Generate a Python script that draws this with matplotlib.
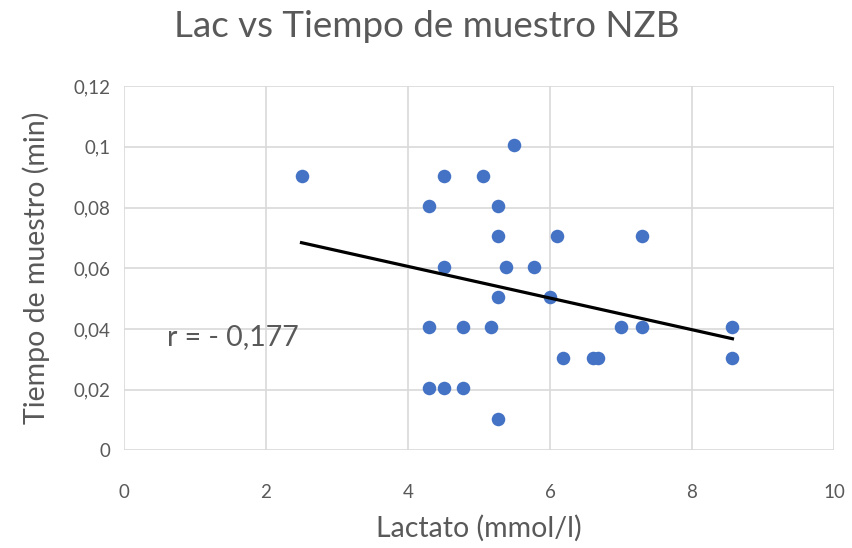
import matplotlib
matplotlib.use('Agg')
import matplotlib.pyplot as plt
from matplotlib.ticker import FuncFormatter, MultipleLocator
import numpy as np

plt.rcParams['font.family'] = ['Lato', 'DejaVu Sans']

# datos
lactato = [2.5, 4.5, 5.05, 5.5, 4.3, 5.27, 5.27, 6.1, 7.3, 4.5, 5.38, 5.78, 5.27, 6.0,
           4.3, 4.77, 5.17, 7.0, 7.3, 8.57, 6.18, 6.6, 6.68, 8.57, 4.3, 4.5, 4.77, 5.27]
tiempo = [0.0905, 0.0905, 0.0905, 0.1005, 0.0805, 0.0805, 0.0705, 0.0705, 0.0705, 0.0605,
          0.0605, 0.0605, 0.0505, 0.0505, 0.0405, 0.0405, 0.0405, 0.0405, 0.0405, 0.0405,
          0.0305, 0.0305, 0.0305, 0.0305, 0.0205, 0.0205, 0.0205, 0.0105]
r_texto = 'r = - 0,177'

gris = '#595959'
x = np.array(lactato)
y = np.array(tiempo)

fig = plt.figure(figsize=(8.53, 5.48), dpi=100)
ax = fig.add_axes([0.1454, 0.178, 0.8323, 0.665])

ax.scatter(x, y, s=95, color='#4472C4', zorder=3, linewidths=0)

# línea de tendencia lineal
m, b = np.polyfit(x, y, 1)
xt = np.array([x.min(), x.max()])
ax.plot(xt, m * xt + b, color='black', lw=2.3, zorder=4)

ax.text(0.6, 0.0372, r_texto, fontsize=20.5, color=gris, va='center', ha='left')

ax.set_xlim(0, 10)
ax.set_ylim(0, 0.12)
ax.xaxis.set_major_locator(MultipleLocator(2))
ax.yaxis.set_major_locator(MultipleLocator(0.02))
fmt = FuncFormatter(lambda v, p: ('%g' % round(v, 3)).replace('.', ','))
ax.xaxis.set_major_formatter(fmt)
ax.yaxis.set_major_formatter(fmt)

ax.grid(True, color='#d9d9d9', lw=1.2, zorder=0)
ax.set_axisbelow(True)
for s in ax.spines.values():
    s.set_visible(False)
ax.tick_params(length=0, labelsize=13.5, labelcolor=gris)
ax.tick_params(axis='y', pad=10)
ax.tick_params(axis='x', pad=24)

ax.set_xlabel('Lactato (mmol/l)', fontsize=20.5, color=gris, labelpad=10)
ax.set_ylabel('Tiempo de muestro (min)', fontsize=20.5, color=gris, labelpad=17)
fig.suptitle('Lac vs Tiempo de muestro NZB', fontsize=26.5, color=gris, y=0.982)

fig.savefig('out.png', dpi=100)
